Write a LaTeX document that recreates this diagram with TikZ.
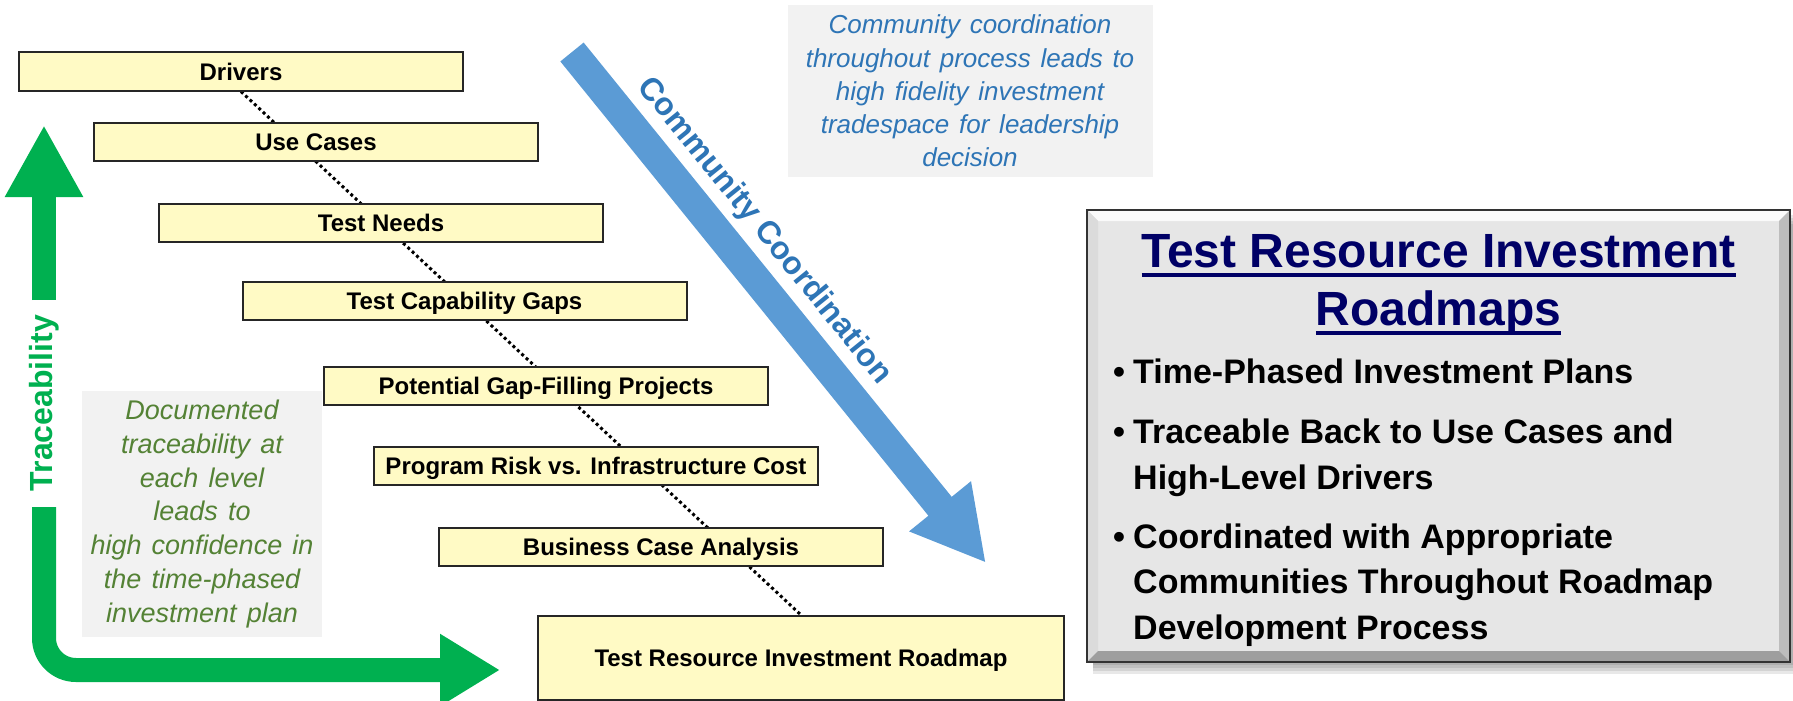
\documentclass[tikz,border=0pt]{standalone}
\usepackage{fontspec}
\setmainfont{Liberation Sans}
\newfontfamily\widenote[WordSpace=1.9]{Liberation Sans}
\newfontfamily\loosenote[WordSpace=1.35]{Liberation Sans}
\usetikzlibrary{arrows.meta,positioning,backgrounds,calc}

\definecolor{boxyellow}{RGB}{255,250,197}
\definecolor{flowblue}{RGB}{91,155,213}
\definecolor{noteblue}{RGB}{46,117,182}
\definecolor{traceGreen}{RGB}{0,176,80}
\definecolor{noteGreen}{RGB}{84,130,53}
\definecolor{titlenavy}{RGB}{0,0,102}
\definecolor{panelgray}{RGB}{230,230,230}
\definecolor{calloutgray}{RGB}{242,242,242}

\newcommand\titlerule[1]{\sbox0{#1}\rlap{\rule[-9.7pt]{\wd0}{4pt}}\usebox0}
\newcommand\pointitem[1]{\makebox[20pt][l]{•}\parbox[t]{640pt}{#1}}

\tikzset{
level/.style={draw=black!85, line width=2pt, fill=boxyellow, minimum width=444pt,
  minimum height=38pt, inner sep=0pt, text height=17.2pt, text depth=0pt,
  font=\bfseries\fontsize{24}{28}\selectfont},
link/.style={draw=black, line width=3pt, dash pattern=on 3pt off 3pt},
trace/.style={draw=traceGreen, line width=24pt},
flow/.style={draw=flowblue, line width=30pt, -{Triangle[width=74pt,length=73pt]}},
note/.style={fill=calloutgray, inner sep=0pt, align=center},
panel/.style={fill=panelgray, minimum width=703pt, minimum height=452pt, inner sep=0pt, outer sep=0pt},
heading/.style={align=center, inner sep=0pt, text=titlenavy, font=\bfseries\fontsize{48}{58}\selectfont},
point/.style={anchor=north west, inner sep=0pt, font=\bfseries\fontsize{34}{45.5}\selectfont},
}

\begin{document}
\begin{tikzpicture}[x=1pt, y=-1pt]
    \clip (0,0) rectangle (1793,701);

    \node[note, minimum width=365pt, minimum height=172pt, text=noteblue,
      font=\widenote\itshape\fontsize{26}{33.25}\selectfont] (fidelity) at (970,91)
      {Community coordination\\throughout process leads to\\high fidelity investment\\tradespace for leadership\\decision};
    \node[note, minimum width=240pt, minimum height=246pt, text=noteGreen,
      font=\loosenote\itshape\fontsize{27}{33.8}\selectfont] (confidence) at (202,514)
      {Documented\\traceability at\\each level\\leads to\\high confidence in\\the time-phased\\investment plan};

    \node[level] (drivers) at (241,71.5) {Drivers};
    \node[level] (usecases) at (316,141.5) {Use Cases};
    \node[level] (needs) at (381,222.5) {Test Needs};
    \node[level] (gaps) at (464.5,300.5) {Test Capability Gaps};
    \node[level] (projects) at (546,386) {Potential Gap-Filling Projects};
    \node[level] (risk) at (596,465.5) {Program Risk vs. Infrastructure Cost};
    \node[level] (business) at (661,546.5) {Business Case Analysis};
    \node[level, minimum width=526pt, minimum height=84pt] (roadmap) at (801,658) {Test Resource Investment Roadmap};

    \begin{scope}[on background layer]
        \draw[link] (drivers.south) -- (roadmap.north);
    \end{scope}

    \coordinate (trace top) at (44,125);
    \coordinate (trace foot) at (44,300);
    \coordinate (trace start) at (44,507);
    \coordinate (trace tip) at (500,670);
    \draw[trace, -{Triangle[width=73pt,length=72pt]}] (trace foot) -- (trace top);
    \node[rotate=90, inner sep=0pt, text=traceGreen, font=\bfseries\fontsize{32}{36}\selectfont] (tracelabel) at (44,403) {Traceability};
    \draw[trace, rounded corners=32pt, -{Triangle[width=68pt,length=60pt]}] (trace start) |- (trace tip);

    \coordinate (flow tail) at (572,52);
    \coordinate (flow tip) at (986,563);
    \draw[flow] (flow tail) -- (flow tip);
    \node[rotate=-51, inner sep=0pt, text=noteblue, font=\bfseries\fontsize{32}{36}\selectfont] (flowlabel) at (764,231) {Community Coordination};

    \foreach \s in {3,6,9,12}
        \fill[black, opacity=0.09] (1093,212+\s) rectangle (1793,662+\s);
    \node[panel] (panel) at (1438.5,436) {};
    \fill[white!80!panelgray] (panel.north west) -- (panel.north east) -- ++(-11,11) -- ($(panel.north west)+(11,11)$) -- cycle;
    \fill[black!14] (panel.north west) -- ++(11,11) -- ($(panel.south west)+(11,-11)$) -- (panel.south west) -- cycle;
    \fill[black!26] (panel.north east) -- ++(-11,11) -- ($(panel.south east)+(-11,-11)$) -- (panel.south east) -- cycle;
    \fill[black!38] (panel.south west) -- ++(11,-11) -- ($(panel.south east)+(-11,-11)$) -- (panel.south east) -- cycle;
    \draw[black!80, line width=2.5pt] (panel.north west) rectangle (panel.south east);

    \node[heading, below=24.5pt of panel.north] (title) {\titlerule{Test Resource Investment}\\\titlerule{Roadmaps}};
    \node[point, below right=149pt and 26pt of panel.north west] (phased) {\pointitem{Time-Phased Investment Plans}};
    \node[point, below right=209pt and 26pt of panel.north west] (traceable) {\pointitem{Traceable Back to Use Cases and\\High-Level Drivers}};
    \node[point, below right=313.5pt and 26pt of panel.north west] (coordinated) {\pointitem{Coordinated with Appropriate\\Communities Throughout Roadmap\\Development Process}};
\end{tikzpicture}
\end{document}
